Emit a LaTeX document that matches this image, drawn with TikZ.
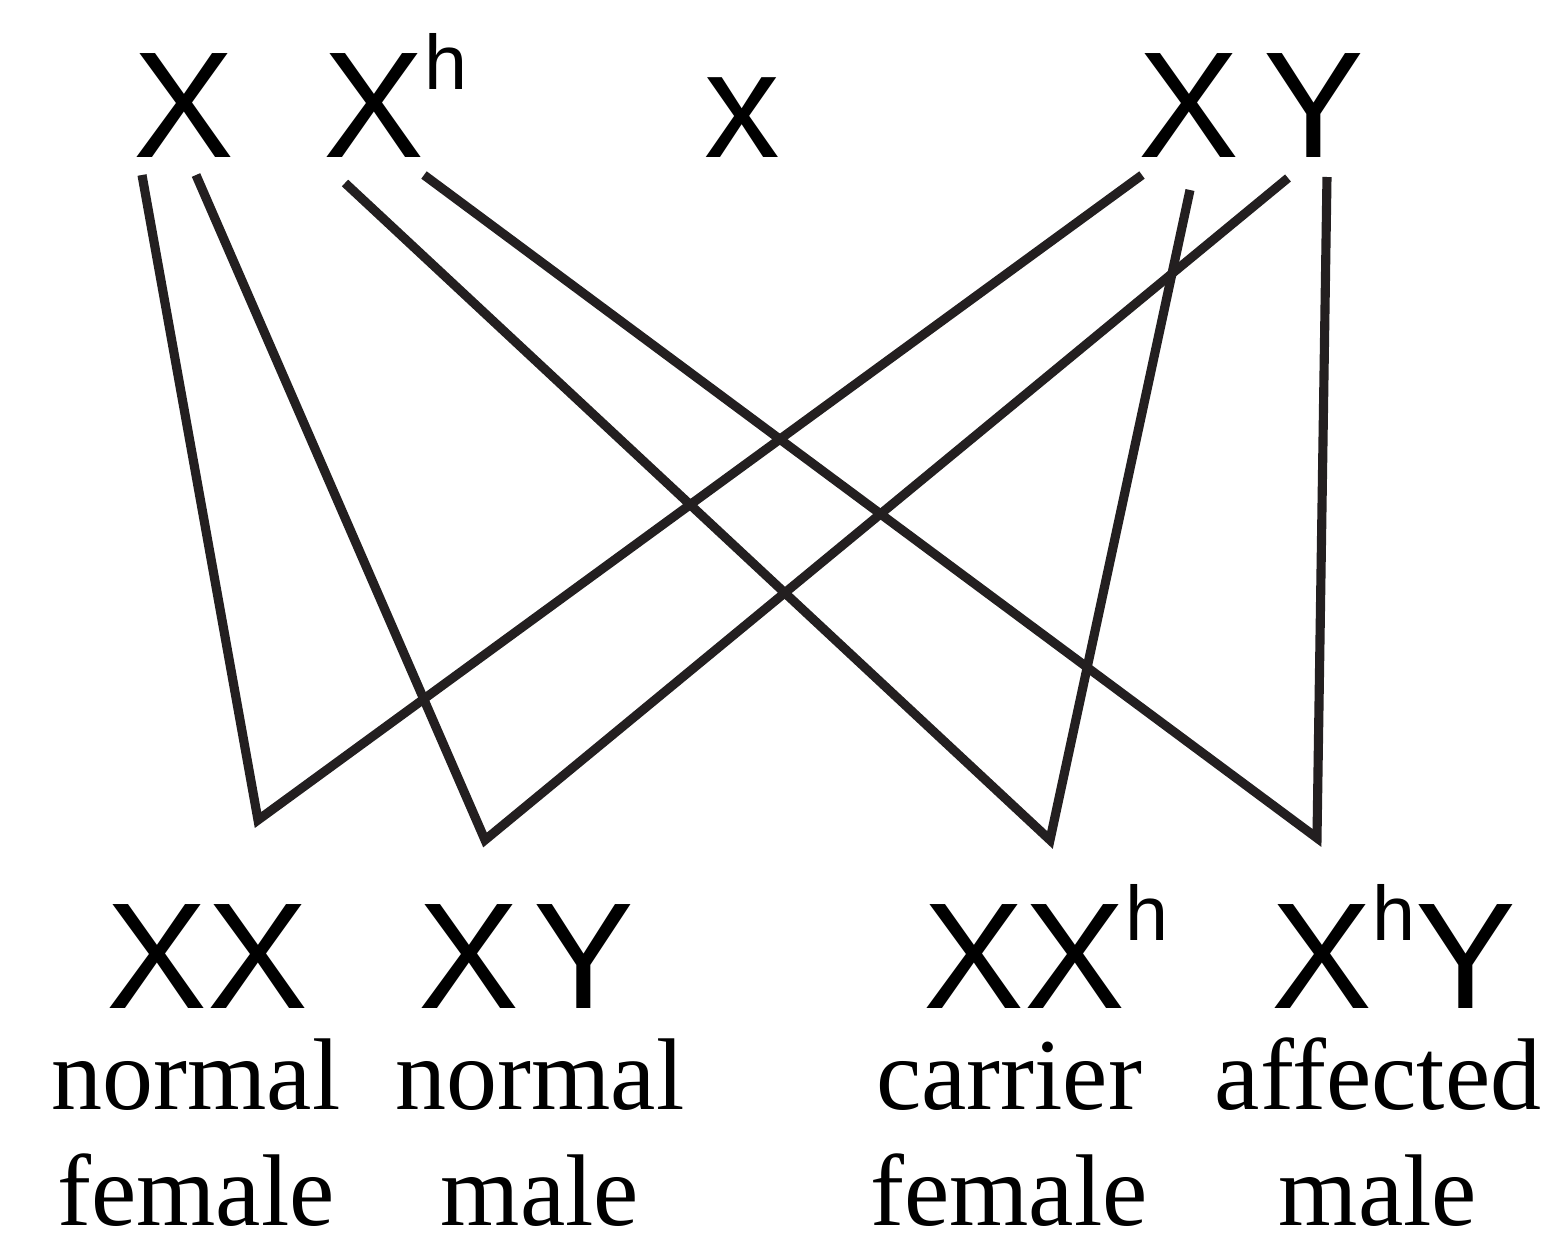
\documentclass[tikz,border=0pt]{standalone}
\usepackage{fontspec}
\setmainfont{Liberation Serif}
\newfontfamily\gamfont{Liberation Sans}
\usetikzlibrary{positioning}
\definecolor{LineInk}{HTML}{231F20}
\newcommand{\suph}{\raisebox{0.68cm}{\fontsize{22}{22}\selectfont h}}

\begin{document}
\begin{tikzpicture}[
  gam/.style={anchor=base west,inner sep=0pt,font=\gamfont\fontsize{43}{45}\selectfont},
  lab/.style={anchor=base,inner sep=0pt,align=center,text depth=0pt,font=\fontsize{29}{33}\selectfont},
  link/.style={draw=LineInk,line width=2.6pt,line join=miter},
]
\useasboundingbox (0,0) rectangle (15.63,-12.47);

% parents
\node[gam] (pxa)   at (1.33,-1.57)  {X};
\node[gam] (pxh)   at (3.23,-1.57)  {X\suph};
\node[gam] (cross) at (7.04,-1.57)  {x};
\node[gam] (pxb)   at (11.38,-1.57) {X};
\node[gam] (pyb)   at (12.63,-1.57) {Y};

% offspring
\node[gam] (kxx)  at (1.06,-10.08)  {XX};
\node[gam] (kxy)  at (4.18,-10.08)  {X\hspace{0.14cm}Y};
\node[gam] (kxxh) at (9.23,-10.08)  {XX\suph};
\node[gam] (kxhy) at (12.71,-10.08) {X\suph Y};

\node[lab] (lnf) at (1.96,-12.25)  {normal\\female};
\node[lab] (lnm) at (5.40,-12.25)  {normal\\male};
\node[lab] (lcf) at (10.09,-12.25) {carrier\\female};
\node[lab] (lam) at (13.78,-12.25) {affected\\male};

% crossing lines
\coordinate (a1) at (1.42,-1.75);  \coordinate (b1) at (11.42,-1.75);
\coordinate (a2) at (1.96,-1.75);  \coordinate (b2) at (12.88,-1.78);
\coordinate (a3) at (3.45,-1.83);  \coordinate (b3) at (11.90,-1.90);
\coordinate (a4) at (4.24,-1.75);  \coordinate (b4) at (13.27,-1.77);
\coordinate (v1) at (2.58,-8.20);
\coordinate (v2) at (4.85,-8.40);
\coordinate (v3) at (10.50,-8.40);
\coordinate (v4) at (13.17,-8.38);

\foreach \i in {1,...,4}
  \draw[link] (a\i) -- (v\i) -- (b\i);
\end{tikzpicture}
\end{document}
